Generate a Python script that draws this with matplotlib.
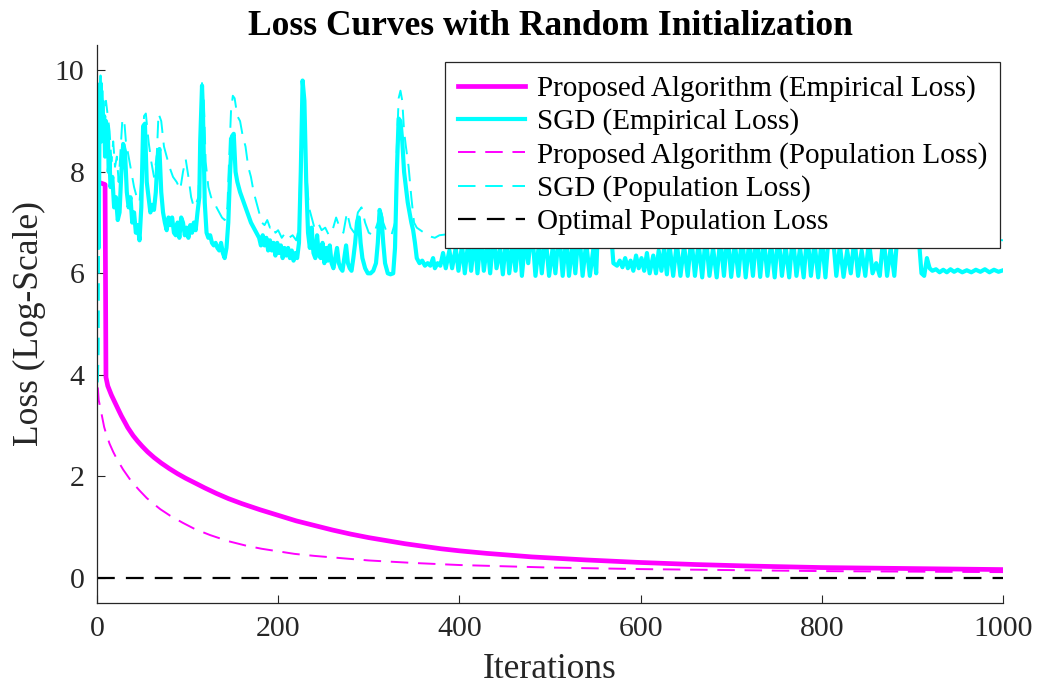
import matplotlib
matplotlib.use("Agg")
import matplotlib.pyplot as plt

plt.rcParams['font.family'] = ['Liberation Serif', 'DejaVu Serif']

# proposed algorithm, empirical loss: (iteration, loss)
prop_emp = [(1, 7.8), (9, 7.75), (10, 3.95), (12, 3.78), (16, 3.6), (20, 3.45), (24, 3.3), (27, 3.19),
            (31, 3.06), (34, 2.96), (40, 2.8), (45, 2.69), (50, 2.59), (56, 2.48), (63, 2.37), (71, 2.26),
            (80, 2.15), (89, 2.05), (98, 1.96), (108, 1.87), (119, 1.77), (132, 1.66), (145, 1.56),
            (160, 1.46), (180, 1.34), (200, 1.23), (220, 1.12), (240, 1.03), (260, 0.94), (280, 0.86),
            (300, 0.79), (340, 0.67), (380, 0.57), (400, 0.53), (430, 0.48), (480, 0.41), (540, 0.35),
            (600, 0.3), (660, 0.26), (720, 0.23), (800, 0.2), (900, 0.18), (1000, 0.16)]

# proposed algorithm, population loss
prop_pop = [(1, 3.75), (2, 3.5), (4, 3.33), (6, 3.15), (8, 2.97), (10, 2.85), (14, 2.64), (18, 2.48),
            (22, 2.34), (29, 2.13), (38, 1.9), (47, 1.72), (55, 1.57), (63, 1.45), (70, 1.35), (81, 1.22),
            (95, 1.08), (108, 0.96), (125, 0.84), (145, 0.72), (165, 0.63), (182, 0.57), (200, 0.52),
            (218, 0.47), (240, 0.43), (260, 0.4), (300, 0.34), (350, 0.29), (400, 0.25), (500, 0.2),
            (600, 0.17), (700, 0.15), (800, 0.13), (900, 0.12), (1000, 0.11)]

# SGD, empirical loss
sgd_emp = [(1, 7.8), (2, 6.5), (3, 9.3), (4, 9.75), (5, 8.6), (6, 9.4), (7, 8.8), (8, 9.1), (9, 8.3),
           (10, 9.0), (11, 8.6), (12, 8.9), (13, 8.0), (14, 8.2), (15, 7.7), (17, 7.9), (19, 7.3), (21, 7.5),
           (23, 7.05), (25, 7.2), (27, 8.0), (29, 8.55), (31, 8.4), (33, 7.6), (35, 7.3), (37, 7.5), (39, 7.0),
           (41, 7.2), (43, 6.8), (45, 6.95), (47, 6.65), (49, 7.3), (51, 8.9), (53, 8.95), (55, 7.8), (57, 7.5),
           (59, 7.2), (61, 7.35), (63, 7.25), (65, 7.6), (67, 8.3), (69, 8.45), (71, 7.6), (73, 7.2), (75, 7.0),
           (77, 6.85), (79, 7.1), (81, 6.95), (83, 7.1), (85, 6.8), (87, 6.75), (89, 7.0), (91, 6.7), (93, 7.1),
           (95, 7.0), (97, 6.75), (99, 6.9), (101, 6.7), (103, 6.95), (105, 6.8), (107, 7.0), (109, 6.85),
           (111, 7.2), (113, 7.5), (114, 8.6), (116, 9.7), (117, 9.2), (119, 7.4), (121, 6.8), (123, 6.7),
           (125, 6.75), (127, 6.6), (129, 6.55), (131, 6.6), (133, 6.5), (135, 6.45), (137, 6.6), (139, 6.4),
           (141, 6.3), (143, 6.5), (145, 7.0), (147, 8.0), (149, 8.7), (151, 8.75), (153, 8.0), (155, 7.8),
           (158, 7.6), (161, 7.45), (164, 7.3), (167, 7.15), (170, 7.0), (173, 6.9), (176, 6.8), (179, 6.7),
           (181, 6.55), (183, 6.75), (185, 6.55), (187, 6.7), (189, 6.45), (191, 6.65), (193, 6.45), (195, 6.6),
           (197, 6.35), (199, 6.6), (201, 6.4), (203, 6.55), (205, 6.3), (207, 6.5), (209, 6.35), (211, 6.5),
           (213, 6.3), (215, 6.45), (217, 6.25), (219, 6.4), (221, 6.3), (223, 6.6), (225, 8.0), (227, 9.8),
           (229, 9.4), (231, 7.8), (233, 6.8), (235, 6.5), (237, 6.9), (239, 6.4), (241, 6.3), (243, 6.75),
           (245, 6.35), (247, 6.3), (249, 6.6), (251, 6.2), (253, 6.5), (255, 6.25), (257, 6.55), (259, 6.2),
           (261, 6.1), (263, 6.3), (265, 6.5), (267, 6.2), (269, 6.1), (271, 6.05), (273, 6.3), (275, 6.55),
           (277, 6.2), (279, 6.1), (281, 6.05), (283, 6.3), (285, 6.6), (287, 7.0), (289, 7.1), (291, 6.6),
           (293, 6.3), (296, 6.1), (299, 6.0), (302, 6.0), (305, 6.05), (308, 6.2), (310, 6.6), (312, 7.25),
           (314, 7.1), (316, 6.6), (318, 6.2), (321, 6.0), (324, 5.98), (327, 6.0), (329, 6.5), (331, 8.0),
           (333, 9.05), (335, 9.0), (337, 8.6), (339, 8.0), (341, 7.7), (343, 7.4), (345, 7.2), (347, 7.0),
           (349, 6.85), (351, 6.6), (353, 6.3), (356, 6.2), (359, 6.25), (362, 6.15), (365, 6.2), (368, 6.15),
           (371, 6.3), (373, 6.1), (376, 6.2), (379, 6.15),
           (382, 6.4), (385, 6.1), (389, 6.45), (392, 6.1), (396, 6.5), (399, 6.05), (403, 6.55), (406, 6.0),
           (410, 6.65), (413, 6.05), (417, 6.7), (420, 6.0), (424, 6.75), (427, 6.05), (431, 6.6), (434, 6.0),
           (438, 6.8), (441, 6.1), (445, 6.5), (448, 5.98), (452, 6.75), (455, 6.0), (459, 6.6), (462, 6.05),
           (466, 6.8), (469, 5.95), (473, 6.7), (476, 6.2), (480, 6.9), (484, 5.95), (488, 6.6), (491, 6.0),
           (495, 6.75), (499, 5.95), (503, 6.5), (506, 6.0), (510, 6.85), (514, 5.95), (518, 6.7), (521, 5.95),
           (525, 6.6), (528, 6.0), (532, 6.9), (536, 5.95), (540, 6.6), (544, 5.95), (548, 6.5), (551, 6.0),
           (553, 6.9), (557, 7.0), (562, 6.95), (567, 6.9), (570, 6.2), (574, 6.15), (577, 6.25), (580, 6.12),
           (583, 6.3), (586, 6.1), (589, 6.25), (592, 6.05), (595, 6.35), (598, 6.1), (601, 6.3), (604, 6.05),
           (607, 6.4), (610, 6.0), (614, 6.35), (617, 6.0), (620, 6.45), (623, 6.05), (626, 6.5), (629, 5.98),
           (632, 6.55), (636, 5.95), (640, 6.6), (644, 5.95), (648, 6.55), (652, 5.95), (656, 6.7), (660, 5.95),
           (664, 6.6), (668, 5.92), (672, 6.75), (676, 5.95), (680, 6.5), (684, 5.92), (688, 6.7), (692, 5.95),
           (696, 6.8), (700, 5.93), (704, 6.6), (708, 5.95), (712, 6.75), (716, 5.92), (720, 6.65), (724, 5.95),
           (728, 6.8), (732, 5.93), (736, 6.7), (740, 5.95), (744, 6.6), (748, 5.92), (752, 6.8), (756, 5.95),
           (760, 6.55), (764, 5.92), (768, 6.75), (772, 5.95), (776, 6.5), (780, 5.92), (784, 6.8), (788, 5.95),
           (792, 6.6), (796, 5.92), (800, 6.7), (804, 5.92), (808, 6.85), (812, 6.8), (816, 5.95), (820, 6.55),
           (824, 5.93), (828, 6.45), (832, 6.0), (836, 6.7), (840, 5.95), (844, 6.45), (848, 5.95), (852, 6.65),
           (856, 6.0), (860, 6.2), (864, 5.95), (868, 6.75), (872, 5.95), (876, 6.5), (880, 5.95), (884, 6.9),
           (890, 6.95), (896, 6.9), (902, 6.85), (907, 6.7), (910, 6.0), (913, 5.95), (916, 6.3), (919, 6.1),
           (922, 6.05), (926, 6.08), (930, 6.02), (934, 6.07), (938, 6.02), (942, 6.08), (946, 6.03), (950, 6.07),
           (955, 6.02), (960, 6.06), (965, 6.02), (970, 6.07), (975, 6.03), (980, 6.08), (985, 6.02), (990, 6.07),
           (995, 6.03), (1000, 6.06)]

# SGD, population loss
sgd_pop = [(1, 3.85), (2, 4.5), (3, 9.5), (4, 9.9), (5, 9.2), (6, 9.6), (8, 9.0), (10, 9.4), (12, 9.1),
           (14, 8.8), (16, 8.2), (18, 8.6), (20, 8.1), (22, 8.3), (24, 7.8), (26, 8.4), (28, 9.0), (30, 9.05),
           (32, 8.6), (35, 8.3), (38, 8.0), (41, 7.7), (44, 7.5), (47, 7.4), (50, 8.1), (52, 9.1), (54, 9.15),
           (57, 8.6), (60, 8.2), (63, 7.9), (66, 8.3), (68, 9.15), (71, 9.0), (74, 8.5), (77, 8.3), (80, 8.1),
           (84, 7.9), (88, 7.8), (92, 7.65), (95, 8.0), (98, 8.25), (101, 7.9), (104, 7.5), (107, 7.3),
           (110, 7.4), (112, 7.5), (114, 8.6), (116, 9.75), (118, 9.4), (120, 8.2), (123, 7.7), (126, 7.5),
           (129, 7.45), (132, 7.3), (135, 7.2), (138, 7.1), (141, 7.05), (144, 7.3), (146, 8.3), (148, 9.2),
           (150, 9.5), (152, 9.45), (155, 9.1), (158, 9.0), (161, 8.7), (164, 8.5), (167, 8.1), (170, 7.9),
           (173, 7.6), (176, 7.4), (179, 7.2), (182, 7.0), (185, 6.95), (188, 7.05), (191, 6.9), (194, 6.95),
           (197, 6.8), (200, 6.85), (204, 6.7), (208, 6.8), (212, 6.7), (216, 6.75), (220, 6.65), (223, 6.9),
           (225, 8.5), (227, 9.8), (229, 9.5), (231, 8.0), (234, 7.3), (237, 7.1), (240, 6.9), (244, 7.0),
           (248, 6.85), (252, 6.9), (256, 6.75), (260, 6.85), (264, 7.1), (268, 6.9), (272, 6.8), (276, 7.2),
           (280, 6.9), (284, 6.8), (288, 7.2), (292, 7.3), (296, 7.0), (300, 6.8), (305, 6.75), (310, 7.0),
           (313, 7.3), (316, 7.0), (320, 6.8), (325, 6.75), (329, 7.0), (331, 8.5), (333, 9.45), (335, 9.6),
           (337, 9.4), (339, 8.8), (341, 8.5), (344, 8.1), (347, 7.5), (350, 7.0), (353, 6.9), (357, 6.85),
           (361, 6.8), (365, 6.75), (369, 6.72), (373, 6.7), (378, 6.75), (400, 6.8), (420, 6.9), (440, 6.85),
           (460, 7.0), (480, 6.9), (500, 7.0), (520, 6.85), (540, 7.0), (555, 7.2), (565, 7.1), (575, 6.8),
           (600, 6.75), (630, 6.8), (660, 6.9), (690, 6.85), (720, 6.95), (750, 6.85), (780, 6.9), (810, 7.05),
           (840, 6.85), (870, 6.9), (895, 7.1), (910, 6.85), (940, 6.72), (970, 6.68), (985, 6.68),
           (1000, 6.65)]

opt_it = [0, 1000]
opt_val = [0, 0]

prop_emp_it, prop_emp_val = zip(*prop_emp)
prop_pop_it, prop_pop_val = zip(*prop_pop)
sgd_emp_it, sgd_emp_val = zip(*sgd_emp)
sgd_pop_it, sgd_pop_val = zip(*sgd_pop)

fig = plt.figure(figsize=(10.42, 6.98), dpi=100)
ax = fig.add_axes([0.093, 0.136, 0.8696, 0.7995])

ax.plot(prop_emp_it, prop_emp_val, color='#FF00FF', lw=3.4, label='Proposed Algorithm (Empirical Loss)')
ax.plot(sgd_emp_it, sgd_emp_val, color='#00FFFF', lw=3.0, label='SGD (Empirical Loss)')
ax.plot(prop_pop_it, prop_pop_val, color='#FF00FF', lw=1.4, dashes=(9, 5),
        label='Proposed Algorithm (Population Loss)')
ax.plot(sgd_pop_it, sgd_pop_val, color='#00FFFF', lw=1.4, dashes=(9, 5), label='SGD (Population Loss)')
ax.plot(opt_it, opt_val, color='black', lw=1.6, dashes=(8, 5), label='Optimal Population Loss')

ax.set_xlim(0, 1000)
ax.set_ylim(-0.5, 10.5)
ax.set_xticks([0, 200, 400, 600, 800, 1000])
ax.set_yticks([0, 2, 4, 6, 8, 10])
ax.tick_params(direction='in', length=6, width=0.8, colors='#262626', labelsize=21.5, pad=9)
for s in ['top', 'right']:
    ax.spines[s].set_visible(False)
for s in ['left', 'bottom']:
    ax.spines[s].set_color('#262626')
    ax.spines[s].set_linewidth(0.9)

ax.set_xlabel('Iterations', fontsize=25.5, color='#262626', labelpad=8)
ax.set_ylabel('Loss (Log-Scale)', fontsize=25.5, color='#262626', labelpad=6)
ax.set_title('Loss Curves with Random Initialization', fontsize=25.5, fontweight='bold', pad=7)

leg = ax.legend(loc='upper right', bbox_to_anchor=(0.9967, 0.9695), borderaxespad=0, fontsize=21,
                fancybox=False, framealpha=1, edgecolor='#262626', handlelength=2.3,
                handletextpad=0.4, labelspacing=0.22, borderpad=0.45)
leg.get_frame().set_linewidth(0.9)

fig.savefig('out.png', dpi=100)
